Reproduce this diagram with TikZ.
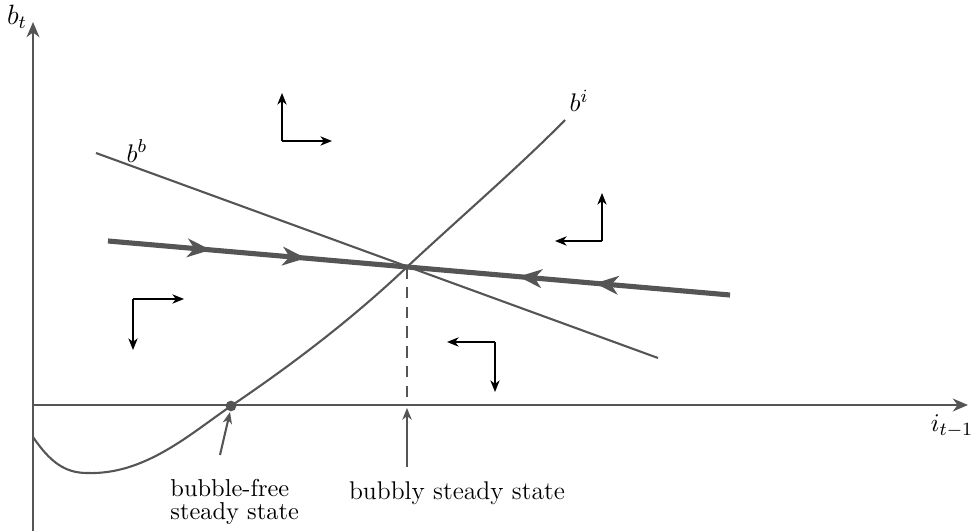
\documentclass[tikz,border=0pt]{standalone}
\usetikzlibrary{arrows.meta,decorations.markings}
\definecolor{cg}{RGB}{85,85,85}
\begin{document}
\begin{tikzpicture}[x=0.43pt,y=-0.43pt,
  curve/.style={draw=cg,line width=0.9pt},
  axis/.style={draw=cg,line width=0.9pt,-{Stealth[length=6.5pt,width=5.5pt,inset=2pt]}},
  dir/.style={draw=black,line width=0.6pt,-{Stealth[length=5pt,width=4pt,inset=1.5pt]}},
  pointer/.style={draw=cg,line width=0.9pt,-{Stealth[length=5pt,width=4pt,inset=1.5pt]}},
  saddle/.style={draw=cg,line width=2.2pt},
  lbl/.style={inner sep=0pt,font={\fontsize{11}{13}\selectfont}}]
\useasboundingbox (0,0) rectangle (971,531);
% axes
\coordinate (o) at (33,405);
\coordinate (ybot) at (33,531);
\coordinate (ytop) at (33,22);
\coordinate (xend) at (968,405);
\draw[axis] (ybot) -- (ytop);
\draw[axis] (o) -- (xend);
\node[lbl,font={\fontsize{12}{14}\selectfont}] (bt) at (17,17) {$b_t$};
\node[lbl] (it) at (952,426) {$i_{t-1}$};
% b^b line
\coordinate (bb1) at (96,153);
\coordinate (bb2) at (658,358);
\draw[curve] (bb1) -- (bb2);
\node[lbl] (bblab) at (137,151) {$b^b$};
% b^i curve
\coordinate (bi0) at (33,437);
\coordinate (bimin) at (87,473);
\coordinate (bf) at (231,406);
\coordinate (ss) at (407,267);
\coordinate (bi1) at (565,120);
\draw[curve] (bi0) .. controls (50,462) and (65,473) .. (bimin)
  .. controls (145,475) and (190,434) .. (bf)
  .. controls (290,366) and (350,321) .. (ss)
  .. controls (455,222) and (520,166) .. (bi1);
\node[lbl] (bilab) at (579,101) {$b^i$};
% saddle path
\coordinate (sp1) at (108,241);
\coordinate (sp2) at (730,295);
\draw[saddle,postaction={decorate},decoration={markings,
  mark=at position 0.165 with {\arrow{Stealth[length=10pt,width=8pt,inset=3pt]}},
  mark=at position 0.318 with {\arrow{Stealth[length=10pt,width=8pt,inset=3pt]}},
  mark=at position 0.66 with {\arrowreversed{Stealth[length=10pt,width=8pt,inset=3pt]}},
  mark=at position 0.783 with {\arrowreversed{Stealth[length=10pt,width=8pt,inset=3pt]}}}]
  (sp1) -- (sp2);
% dashed
\coordinate (ssx) at (407,405);
\draw[draw=cg,line width=0.9pt,dash pattern=on 5pt off 3.5pt] (ss) -- (ssx);
% bubble-free point
\fill[cg] (bf) circle (2.3pt);
% pointers
\coordinate (bft) at (220,455);
\coordinate (bfh) at (230,412);
\draw[pointer] (bft) -- (bfh);
\coordinate (bbt) at (407,467);
\coordinate (bbh) at (407,408);
\draw[pointer] (bbt) -- (bbh);
\node[lbl,align=left,anchor=north west,font={\fontsize{10.5}{10}\selectfont}] (bflab) at (170,479) {bubble-free\\steady state};
\node[lbl] (bblab2) at (457,493) {bubbly steady state};
% direction arrows
\coordinate (c1) at (282,141);
\coordinate (c1u) at (282,93);
\coordinate (c1r) at (332,141);
\draw[dir] (c1) -- (c1u);
\draw[dir] (c1) -- (c1r);
\coordinate (c2) at (602,241);
\coordinate (c2u) at (602,193);
\coordinate (c2l) at (555,241);
\draw[dir] (c2) -- (c2u);
\draw[dir] (c2) -- (c2l);
\coordinate (c3) at (133,299);
\coordinate (c3r) at (184,299);
\coordinate (c3d) at (133,350);
\draw[dir] (c3) -- (c3r);
\draw[dir] (c3) -- (c3d);
\coordinate (c4) at (495,342);
\coordinate (c4l) at (447,342);
\coordinate (c4d) at (495,392);
\draw[dir] (c4) -- (c4l);
\draw[dir] (c4) -- (c4d);
\end{tikzpicture}
\end{document}
